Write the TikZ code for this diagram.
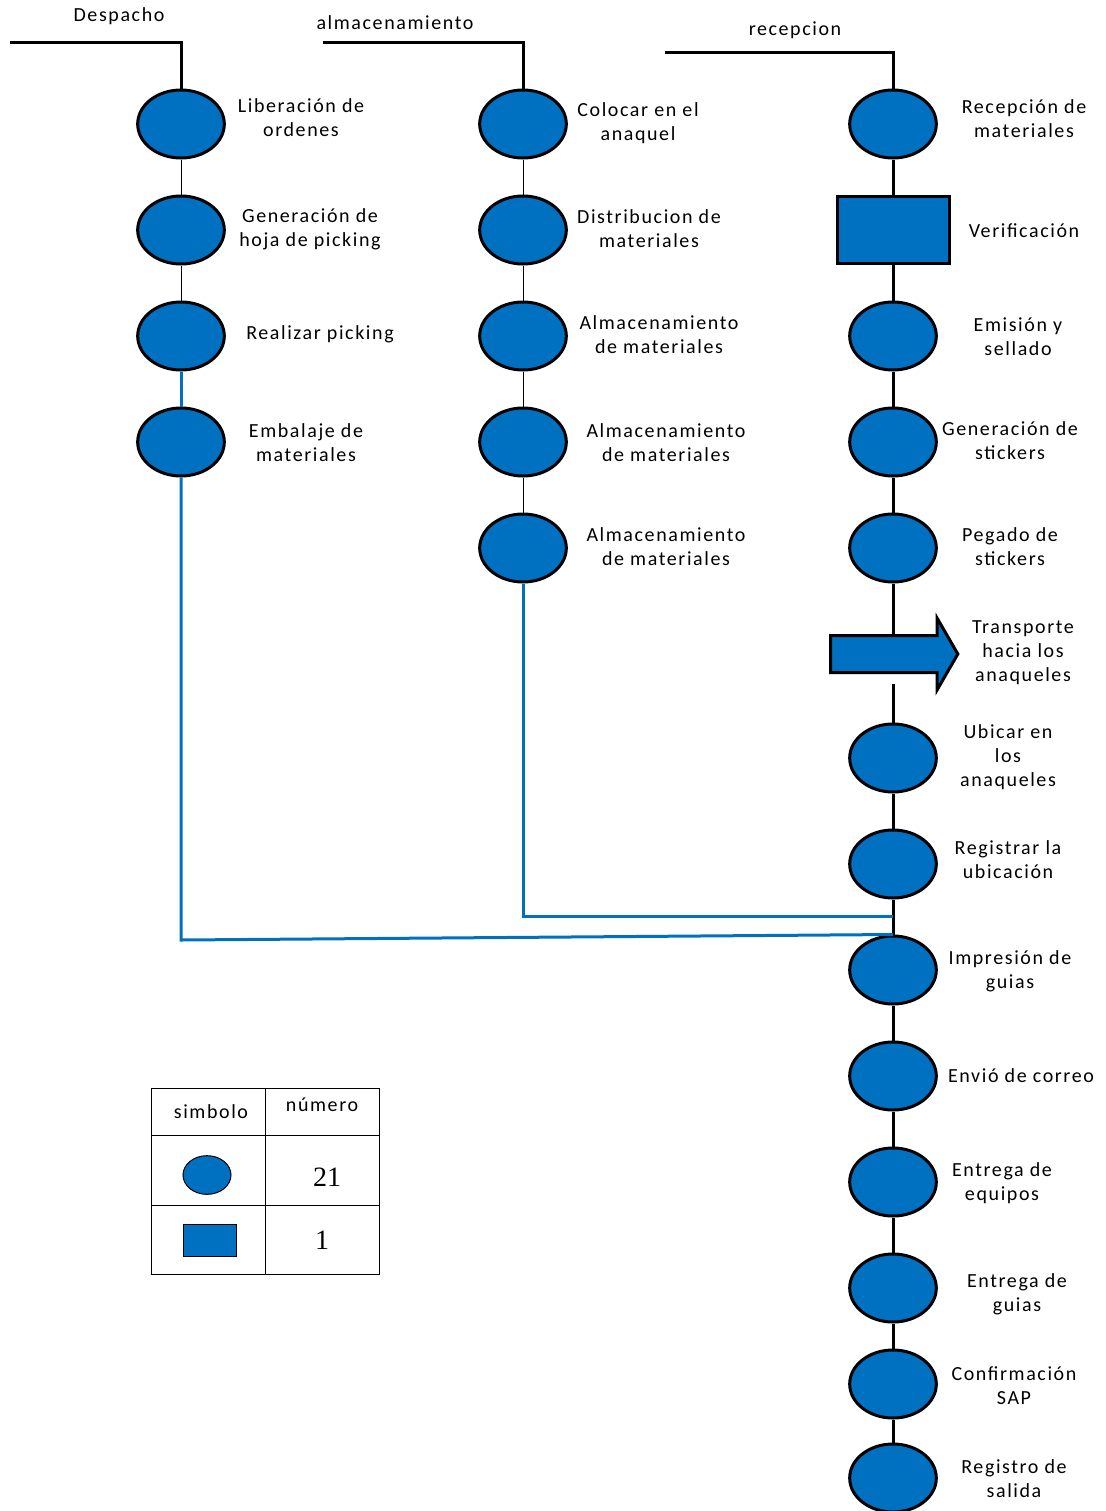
\documentclass[tikz,border=0pt]{standalone}
\usepackage{fontspec}
\setmainfont{Carlito}[LetterSpace=8]
\newfontfamily\numfont{Liberation Serif}
\usepackage{tikz}
\usetikzlibrary{shapes.geometric,shapes.arrows}
\definecolor{actblue}{HTML}{0070C0}

\begin{document}
\begin{tikzpicture}[x=0.75pt,y=-0.75pt,font=\fontsize{15}{18}\selectfont,
    act/.style={draw,ellipse,fill=actblue,line width=2.25pt,minimum width=65pt,minimum height=51pt,inner sep=0pt},
    chk/.style={draw,rectangle,fill=actblue,line width=2.25pt,minimum width=84pt,minimum height=50pt,inner sep=0pt},
    trn/.style={draw,single arrow,fill=actblue,line width=2.25pt,inner xsep=0pt,inner ysep=12.75pt,
      minimum height=95.5pt,minimum width=52pt,single arrow head extend=13pt,single arrow tip angle=120},
    lbl/.style={align=center},
    thinlink/.style={line width=0.75pt},
    thicklink/.style={line width=2.25pt},
    flow/.style={actblue,line width=2.25pt}]
  \useasboundingbox (0,0) rectangle (1106,1511);

  % headers
  \node (tdes) at (119,16) {Despacho};
  \node (talm) at (395,23) {almacenamiento};
  \node (trec) at (795,30) {recepcion};
  \coordinate (hdes) at (10,42);
  \coordinate (halm) at (323,42);
  \coordinate (hrec) at (665,52);

  % despacho
  \node[act] (des1) at (181,124) {};
  \node[act] (des2) at (181,230) {};
  \node[act] (des3) at (181,336) {};
  \node[act] (des4) at (181,442) {};
  \node[lbl] (ldes1) at (301,118) {Liberación de\\ordenes};
  \node[lbl] (ldes2) at (310,229) {Generación de\\hoja de picking};
  \node[lbl] (ldes3) at (320,334) {Realizar picking};
  \node[lbl] (ldes4) at (306,443) {Embalaje de\\materiales};

  % almacenamiento
  \node[act] (alm1) at (523,124) {};
  \node[act] (alm2) at (523,230) {};
  \node[act] (alm3) at (523,336) {};
  \node[act] (alm4) at (523,442) {};
  \node[act] (alm5) at (523,548) {};
  \node[lbl] (lalm1) at (638,123) {Colocar en el\\anaquel};
  \node[lbl] (lalm2) at (649,229) {Distribucion de\\materiales};
  \node[lbl] (lalm3) at (659,335) {Almacenamiento\\de materiales};
  \node[lbl] (lalm4) at (666,443) {Almacenamiento\\de materiales};
  \node[lbl] (lalm5) at (666,547) {Almacenamiento\\de materiales};

  % recepcion
  \node[act] (rec1) at (893,124) {};
  \node[chk] (rec2) at (893,230) {};
  \node[act] (rec3) at (893,336) {};
  \node[act] (rec4) at (893,442) {};
  \node[act] (rec5) at (893,548) {};
  \node[trn,anchor=tail] (rec6) at (829,654) {};
  \node[act] (rec7) at (893,758) {};
  \node[act] (rec8) at (893,864) {};
  \node[act] (rec9) at (893,970) {};
  \node[act] (rec10) at (893,1076) {};
  \node[act] (rec11) at (893,1182) {};
  \node[act] (rec12) at (893,1288) {};
  \node[act] (rec13) at (893,1384) {};
  \node[act] (rec14) at (893,1478) {};
  \node[lbl] (lrec1) at (1024,119) {Recepción de\\materiales};
  \node[lbl] (lrec2) at (1024,231) {Verificación};
  \node[lbl] (lrec3) at (1018,337) {Emisión y\\sellado};
  \node[lbl] (lrec4) at (1010,441) {Generación de\\stickers};
  \node[lbl] (lrec5) at (1010,547) {Pegado de\\stickers};
  \node[lbl] (lrec6) at (1023,653) {Transporte\\hacia los\\anaqueles};
  \node[lbl] (lrec7) at (1008,757) {Ubicar en\\los\\anaqueles};
  \node[lbl] (lrec8) at (1008,860) {Registrar la\\ubicación};
  \node[lbl] (lrec9) at (1010,971) {Impresión de\\guias};
  \node[lbl] (lrec10) at (1021,1076) {Envió de correo};
  \node[lbl] (lrec11) at (1002,1183) {Entrega de\\equipos};
  \node[lbl] (lrec12) at (1017,1294) {Entrega de\\guias};
  \node[lbl] (lrec13) at (1014,1386) {Confirmación\\SAP};
  \node[lbl] (lrec14) at (1014,1479) {Registro de\\salida};

  % lines
  \draw[thicklink] (hdes) -| (des1);
  \draw[thicklink] (halm) -| (alm1);
  \draw[thicklink] (hrec) -| (rec1);
  \draw[thinlink] (des1) -- (des2);
  \draw[thinlink] (des2) -- (des3);
  \draw[thinlink] (des3) -- (des4);
  \draw[thinlink] (alm1) -- (alm2);
  \draw[thinlink] (alm2) -- (alm3);
  \draw[thinlink] (alm3) -- (alm4);
  \draw[thinlink] (alm4) -- (alm5);
  \draw[thicklink] (rec1) -- (rec2);
  \draw[thicklink] (rec2) -- (rec3);
  \draw[thicklink] (rec3) -- (rec4);
  \draw[thicklink] (rec4) -- (rec5);
  \draw[thicklink] (rec5) -- (rec5 |- rec6.after tail);
  \draw[thicklink] (rec5 |- rec6.before tail) ++(0,10) -- (rec7);
  \draw[thicklink] (rec7) -- (rec8);
  \draw[thicklink] (rec8) -- (rec9);
  \draw[thicklink] (rec9) -- (rec10);
  \draw[thicklink] (rec10) -- (rec11);
  \draw[thicklink] (rec11) -- (rec12);
  \draw[thicklink] (rec12) -- (rec13);
  \draw[thicklink] (rec13) -- (rec14);

  % blue flows
  \coordinate (dturn) at (181,940);
  \coordinate (ajoin) at (893,916);
  \draw[flow] (des3) -- (des4);
  \draw[flow] (des4) -- (dturn) -- (rec9.north);
  \draw[flow] (alm5) |- (ajoin);

  % legend
  \draw[thinlink] (151,1088) rectangle (379,1274);
  \draw[thinlink] (265,1088) -- (265,1274);
  \draw[thinlink] (151,1135) -- (379,1135);
  \draw[thinlink] (151,1205) -- (379,1205);
  \node (hsim) at (211,1112) {simbolo};
  \node (hnum) at (322,1105) {número};
  \node[draw,ellipse,fill=actblue,thinlink,minimum width=36pt,minimum height=29pt,inner sep=0pt] (kact) at (207,1175) {};
  \node[draw,rectangle,fill=actblue,thinlink,minimum width=40pt,minimum height=24pt,inner sep=0pt] (kchk) at (210,1240) {};
  \node[font=\numfont\fontsize{21}{24}\selectfont] (nact) at (327,1177) {21};
  \node[font=\numfont\fontsize{21}{24}\selectfont] (nchk) at (322,1240) {1};
\end{tikzpicture}
\end{document}
